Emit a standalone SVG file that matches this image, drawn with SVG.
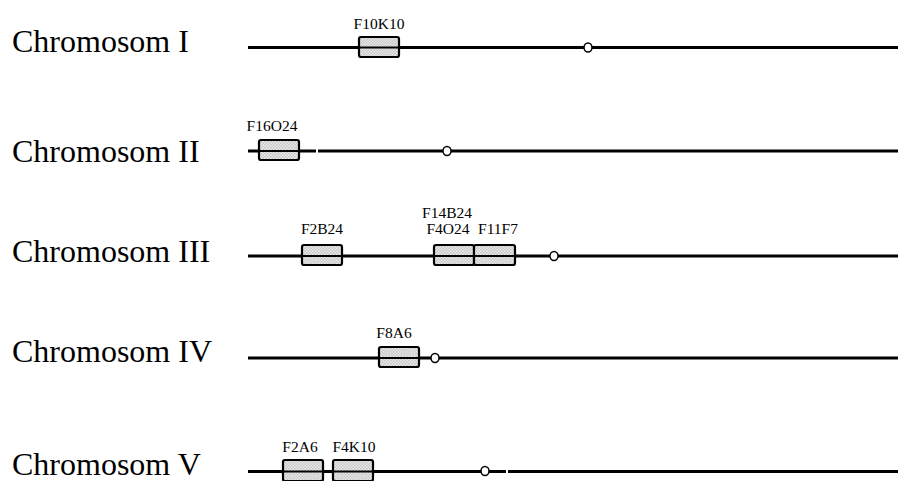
<svg xmlns="http://www.w3.org/2000/svg" width="898" height="481" viewBox="0 0 898 481">
<defs>
<pattern id="dots" width="3" height="3" patternUnits="userSpaceOnUse">
<rect width="3" height="3" fill="#ececec"/>
<rect width="1.5" height="1.5" fill="#c4c4c4"/>
<rect x="1.5" y="1.5" width="1.5" height="1.5" fill="#c4c4c4"/>
</pattern>
<style>
text{font-family:Liberation Serif,Tinos,Times New Roman,DejaVu Serif,Noto Serif,serif;fill:#000}
.chr{font-size:32px}
.lbl{font-size:15.5px;text-anchor:middle}
.line{stroke:#000;stroke-width:3;fill:none}
.gap{stroke:#fff;stroke-width:2;fill:none}
.box{fill:url(#dots);stroke:#000;stroke-width:2.2}
.mid{stroke:#000;stroke-width:2}
.cen{fill:#fff;stroke:#000;stroke-width:1.5}
</style>
</defs>
<rect width="898" height="481" fill="#fff"/>

<g id="connectors">
<line class="line" x1="248" y1="47.5" x2="898" y2="47.5"/>
<line class="line" x1="248" y1="151" x2="898" y2="151"/>
<line class="gap" x1="317" y1="148" x2="317" y2="154"/>
<line class="line" x1="248" y1="256" x2="898" y2="256"/>
<line class="line" x1="248" y1="358" x2="898" y2="358"/>
<line class="line" x1="248" y1="471.5" x2="898" y2="471.5"/>
<line class="gap" x1="507" y1="468" x2="507" y2="475"/>
</g>

<g id="chr1">
<text class="chr" x="12" y="52">Chromosom I</text>
<ellipse class="cen" cx="588" cy="47.5" rx="4" ry="4.5"/>
</g>
<g id="F10K10">
<rect class="box" x="359" y="37" width="40" height="20" rx="2"/>
<line class="mid" x1="359" y1="47.5" x2="399" y2="47.5"/>
<text class="lbl" x="379" y="29">F10K10</text>
</g>

<g id="chr2">
<text class="chr" x="12" y="162">Chromosom II</text>
<ellipse class="cen" cx="447" cy="151" rx="4" ry="4.5"/>
</g>
<g id="F16O24">
<rect class="box" x="259" y="140" width="40" height="20" rx="2"/>
<line class="mid" x1="259" y1="151" x2="299" y2="151"/>
<text class="lbl" x="272" y="131">F16O24</text>
</g>

<g id="chr3">
<text class="chr" x="12" y="262">Chromosom III</text>
<ellipse class="cen" cx="554" cy="256" rx="4" ry="4.5"/>
</g>
<g id="F2B24">
<rect class="box" x="302" y="245" width="40" height="20" rx="2"/>
<line class="mid" x1="302" y1="256" x2="342" y2="256"/>
<text class="lbl" x="322" y="234">F2B24</text>
</g>
<g id="F4O24">
<rect class="box" x="434" y="245" width="40" height="20" rx="2"/>
<line class="mid" x1="434" y1="256" x2="474" y2="256"/>
<text class="lbl" x="447" y="218">F14B24</text>
<text class="lbl" x="448" y="234">F4O24</text>
</g>
<g id="F11F7">
<rect class="box" x="474" y="245" width="41" height="20" rx="2"/>
<line class="mid" x1="474" y1="256" x2="515" y2="256"/>
<text class="lbl" x="498" y="234">F11F7</text>
</g>

<g id="chr4">
<text class="chr" x="12" y="362">Chromosom IV</text>
<ellipse class="cen" cx="435" cy="358" rx="4" ry="4.5"/>
</g>
<g id="F8A6">
<rect class="box" x="379" y="347" width="40" height="20" rx="2"/>
<line class="mid" x1="379" y1="358" x2="419" y2="358"/>
<text class="lbl" x="394" y="338">F8A6</text>
</g>

<g id="chr5">
<text class="chr" x="12" y="475">Chromosom V</text>
<ellipse class="cen" cx="485" cy="471" rx="4" ry="4.5"/>
</g>
<g id="F2A6">
<rect class="box" x="283" y="460" width="40" height="21" rx="2"/>
<line class="mid" x1="283" y1="471.5" x2="323" y2="471.5"/>
<text class="lbl" x="300" y="452">F2A6</text>
</g>
<g id="F4K10">
<rect class="box" x="333" y="460" width="40" height="21" rx="2"/>
<line class="mid" x1="333" y1="471.5" x2="373" y2="471.5"/>
<text class="lbl" x="354" y="452">F4K10</text>
</g>
</svg>
